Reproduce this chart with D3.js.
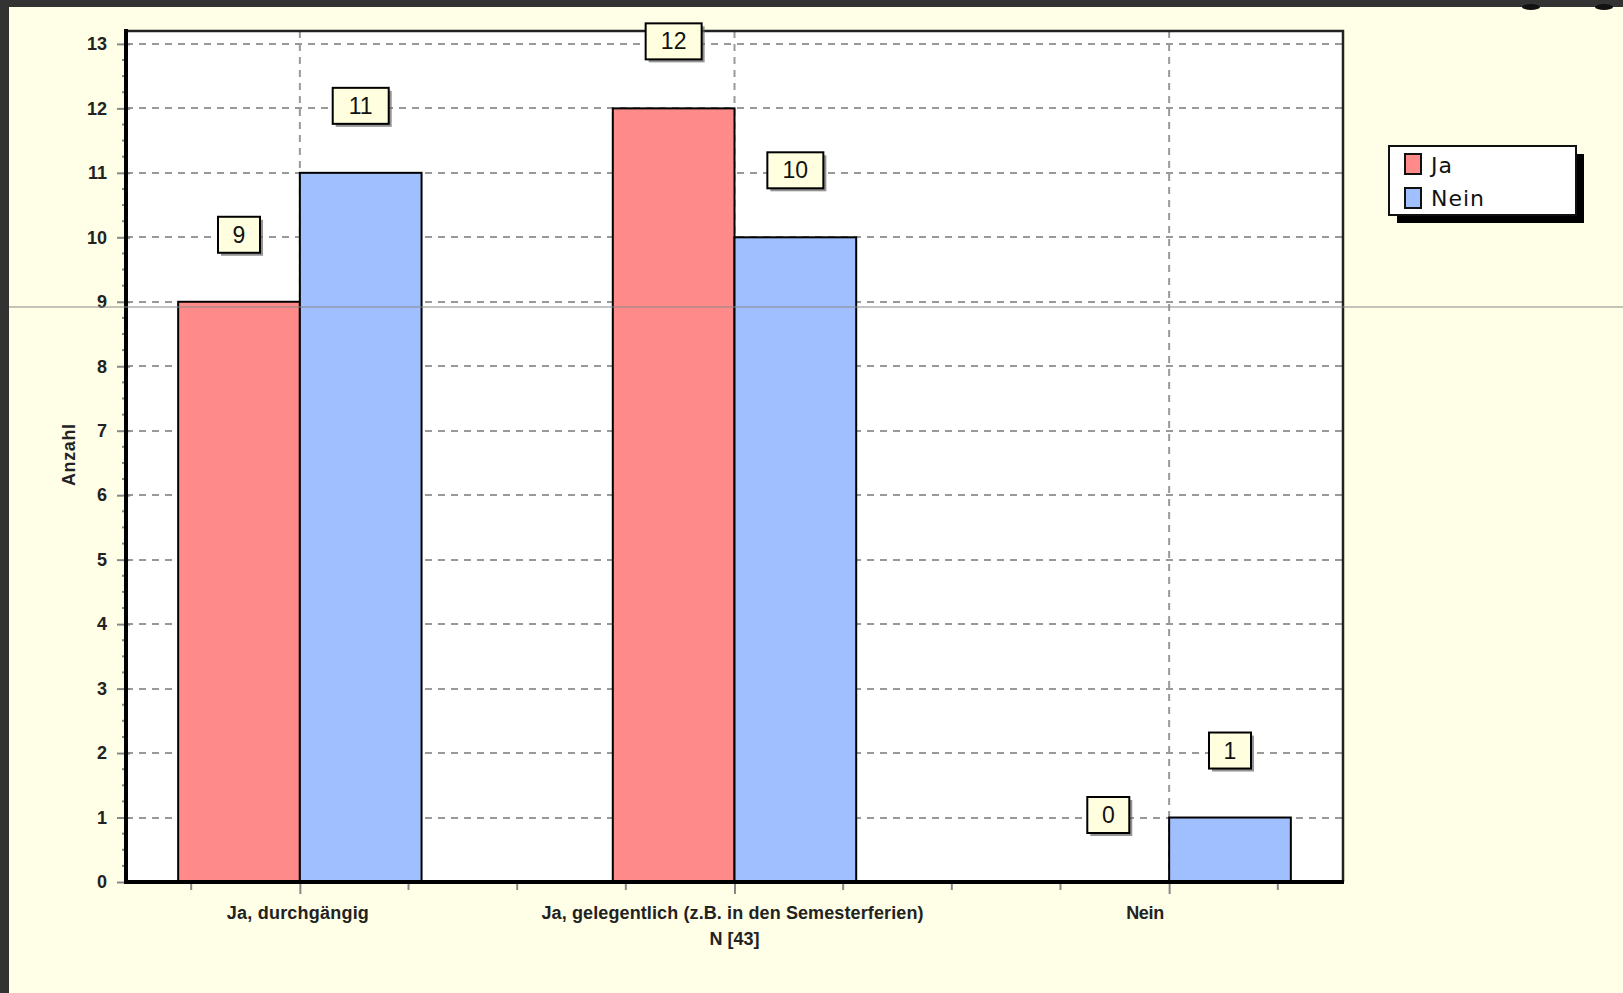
<!DOCTYPE html>
<html><head><meta charset="utf-8">
<script src="https://cdn.jsdelivr.net/npm/d3@7"></script>
<style>html,body{margin:0;padding:0;background:#333;overflow:hidden}</style>
</head><body>
<svg id="chart" width="1623" height="993"></svg>
<script>
const categories = ["Ja, durchgängig", "Ja, gelegentlich (z.B. in den Semesterferien)", "Nein"];
const seriesNames = ["Ja", "Nein"];
const jaValues = [9, 12, 0];
const neinValues = [11, 10, 1];
const yTicks = [0,1,2,3,4,5,6,7,8,9,10,11,12,13];
const yTitle = "Anzahl";
const nLabel = "N [43]";
const colors = ["#FF8A8A", "#A0BFFF"];

const svg = d3.select("#chart");
svg.append("rect").attr("width",1623).attr("height",993).attr("fill","#333333");
svg.append("rect").attr("x",9).attr("y",7).attr("width",1614).attr("height",986).attr("fill","#FFFEE6");
// cut-off glyph remnants at top right
[1531,1604].forEach(cx=>svg.append("ellipse").attr("cx",cx).attr("cy",7).attr("rx",9).attr("ry",3).attr("fill","#111"));

const L=126, R=1343, T=31, B=882;
const x = d3.scaleLinear().domain([-0.4, 2.4]).range([L, R]);
const y = d3.scaleLinear().domain([0, 13.2]).range([B, T]);
const bw = 0.28;

svg.append("rect").attr("x",L).attr("y",T).attr("width",R-L).attr("height",B-T).attr("fill","#fff");

// grid
const grid = svg.append("g").attr("stroke","#999").attr("stroke-width",2).attr("stroke-dasharray","7,6");
yTicks.filter(d=>d>0).forEach(d=>grid.append("line").attr("x1",L).attr("x2",R).attr("y1",Math.round(y(d))).attr("y2",Math.round(y(d))));
categories.forEach((c,i)=>grid.append("line").attr("x1",x(i)).attr("x2",x(i)).attr("y1",T).attr("y2",B));

// bars
const series = [jaValues, neinValues];
series.forEach((vals,s)=>{
  svg.append("g").selectAll("rect").data(vals).join("rect")
    .attr("x",(d,i)=>x(i + (s===0 ? -bw : 0)))
    .attr("width",x(bw)-x(0))
    .attr("y",d=>y(d))
    .attr("height",d=>y(0)-y(d))
    .attr("fill",colors[s]).attr("stroke","#000").attr("stroke-width",2);
});

// plot border top/right
svg.append("path").attr("d",`M${L},${T}H${R}V${B}`).attr("fill","none").attr("stroke","#222").attr("stroke-width",2.5);

// y axis
const yAxis = d3.axisLeft(y).tickValues(yTicks).tickSize(10).tickPadding(8).tickFormat(d3.format("d"));
const gy = svg.append("g").attr("transform",`translate(${L},0)`).call(yAxis);
gy.select(".domain").remove();
gy.selectAll(".tick line").attr("stroke","#888").attr("stroke-width",2).attr("x2",-9).attr("x1",4);
gy.selectAll(".tick text").attr("font-family","'Liberation Sans Narrow', 'Liberation Sans', sans-serif").attr("font-size",18).attr("font-weight","bold").attr("fill","#222").attr("dx",-1);
const minorY = d3.range(0, 13.2, 0.25).filter(v=>Math.abs(v-Math.round(v))>0.01);
svg.append("g").selectAll("line").data(minorY).join("line")
  .attr("x1",L-4).attr("x2",L).attr("y1",d=>y(d)).attr("y2",d=>y(d)).attr("stroke","#888").attr("stroke-width",2);
svg.append("line").attr("x1",L).attr("x2",L).attr("y1",T-2).attr("y2",B+2).attr("stroke","#000").attr("stroke-width",4);

// x axis
const xMinor = d3.range(-0.25, 2.4, 0.25).filter(v=>Math.abs(v-Math.round(v))>0.01);
svg.append("g").selectAll("line").data(xMinor).join("line")
  .attr("x1",d=>x(d)).attr("x2",d=>x(d)).attr("y1",B).attr("y2",B+8).attr("stroke","#888").attr("stroke-width",2);
const xAxis = d3.axisBottom(x).tickValues(d3.range(categories.length)).tickSize(12).tickFormat("");
const gx = svg.append("g").attr("transform",`translate(0,${B})`).call(xAxis);
gx.select(".domain").remove();
gx.selectAll(".tick line").attr("stroke","#888").attr("stroke-width",2);
svg.append("line").attr("x1",L-2).attr("x2",R+1).attr("y1",B).attr("y2",B).attr("stroke","#000").attr("stroke-width",4);

const labelWidths = [142, 382, 38];
const labelShift = [-2, -2, -24];
svg.append("g").selectAll("text").data(categories).join("text")
  .attr("x",(d,i)=>x(i)+labelShift[i]).attr("y",919)
  .attr("text-anchor","middle")
  .attr("font-family","'Liberation Sans Narrow', 'Liberation Sans', sans-serif")
  .attr("font-size",18).attr("font-weight","bold").attr("fill","#222")
  .attr("textLength",(d,i)=>labelWidths[i]).attr("lengthAdjust","spacing")
  .text(d=>d);
svg.append("text").attr("x",x(1)).attr("y",945).attr("text-anchor","middle")
  .attr("font-family","'Liberation Sans Narrow', 'Liberation Sans', sans-serif")
  .attr("font-size",18).attr("font-weight","bold").attr("fill","#222").text(nLabel);

svg.append("text").attr("transform","translate(75,455) rotate(-90)").attr("text-anchor","middle")
  .attr("font-family","'Liberation Sans Narrow', 'Liberation Sans', sans-serif")
  .attr("font-size",18).attr("font-weight","bold").attr("fill","#222").attr("textLength",62).attr("lengthAdjust","spacing").text(yTitle);

// value labels
series.forEach((vals,s)=>{
  vals.forEach((v,i)=>{
    const cx = x(i + (s===0 ? -bw/2 : bw/2));
    const cy = y(v) - 67;
    const txt = String(v);
    const w = txt.length>1 ? 56 : 42, h = 36;
    const g = svg.append("g");
    g.append("rect").attr("x",cx-w/2+3).attr("y",cy-h/2+3).attr("width",w).attr("height",h).attr("fill","#666").attr("opacity",0.7);
    g.append("rect").attr("x",cx-w/2).attr("y",cy-h/2).attr("width",w).attr("height",h).attr("fill","#FFFFE0").attr("stroke","#000").attr("stroke-width",2);
    g.append("text").attr("x",cx).attr("y",cy+8).attr("text-anchor","middle")
      .attr("font-family","'Liberation Sans', Arial, sans-serif").attr("font-size",23).attr("fill","#111").text(txt);
  });
});

// legend
const lg = svg.append("g");
lg.append("rect").attr("x",1397).attr("y",154).attr("width",187).attr("height",69).attr("fill","#000");
lg.append("rect").attr("x",1389).attr("y",146).attr("width",187).attr("height",69).attr("fill","#fff").attr("stroke","#111").attr("stroke-width",2);
seriesNames.forEach((n,i)=>{
  lg.append("rect").attr("x",1405).attr("y",154+i*34).attr("width",16).attr("height",20).attr("fill",colors[i]).attr("stroke","#111").attr("stroke-width",2);
  lg.append("text").attr("x",1431).attr("y",173+i*33).attr("font-family","'DejaVu Sans', Verdana, sans-serif")
    .attr("font-size",22).attr("letter-spacing",1).attr("fill","#111").text(n);
});

// thin horizontal artifact line
svg.append("line").attr("x1",9).attr("x2",1623).attr("y1",307).attr("y2",307).attr("stroke","#888").attr("stroke-width",1);
</script>
</body></html>
